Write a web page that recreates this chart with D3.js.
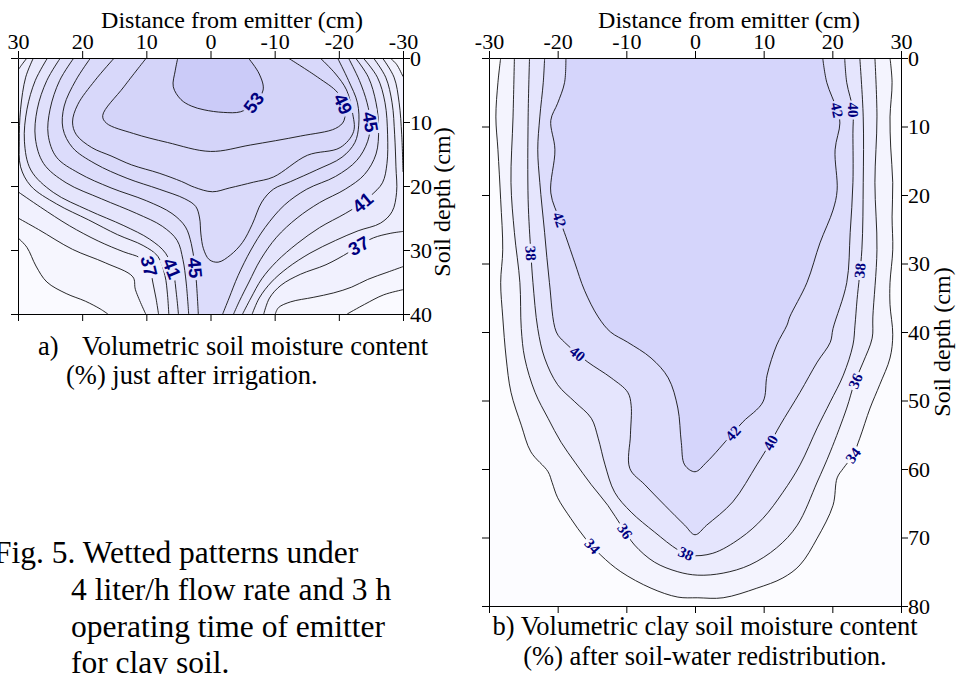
<!DOCTYPE html>
<html>
<head>
<meta charset="utf-8">
<script src="https://cdn.jsdelivr.net/npm/d3@7"></script>
<style>
  body { margin: 0; background: #fff; }
  svg { display: block; }
</style>
</head>
<body>
<script>
// Wetted pattern contour maps. points are [distance cm, depth cm]

// ---- panel a: just after irrigation ----
const xTicksA = [30, 20, 10, 0, -10, -20, -30]
const depthTicksA = [0, 10, 20, 30, 40]

const a53 = [[5.1,0],[5.5,2],[5.8,4.5],[4.6,6.5],[3,7.5],[1,8.1],[-2,8.5],[-4.7,8.4],[-6.5,7.3],[-8.2,5],[-7.6,2.5],[-5.9,0]]
const a49 = [[10,0],[13.5,4.5],[16.8,9],[16.2,10.2],[12,11.8],[6.7,13.2],[0,14.6],[-6.2,13.6],[-14,12.2],[-19.5,11],[-20.8,9.8],[-20.8,7.5],[-19.8,5.4],[-16.7,3],[-12.1,0]]
const a47 = [[15,0],[18,3.5],[20.7,7.3],[21.5,10],[20.9,12],[18.5,14],[15.5,15.3],[12.3,16.7],[8,18],[4.5,19.3],[2.5,20.2],[-0.3,20.9],[-3,20.3],[-6.7,19.4],[-9.8,18.6],[-15.1,15.2],[-20.2,14],[-22.3,11.5],[-22.1,8.4],[-21.2,5],[-19.5,2.5],[-17.1,0]]
const a46 = [[18.7,0],[21,3.5],[22.8,7.5],[23,11],[21.5,14],[18,16.5],[13,18.8],[8,20.5],[4,22],[2.3,23.2],[1.7,25],[1.5,27.5],[1.1,29.8],[0.2,31.5],[-1.2,31.9],[-3.1,30.8],[-5,28.8],[-6.5,26],[-8,22.5],[-9.8,20.5],[-12.5,19.3],[-16.5,17.5],[-20.5,15.5],[-22.5,13.2],[-23.1,10.5],[-22.9,7],[-21.5,3.5],[-19.8,0]]
const a45L = [[21.3,0],[23.5,3.5],[25,8],[25.3,12],[24,15.5],[20.5,18],[15.5,20.3],[10,22.3],[6,24.3],[3.9,26.4],[3,29],[2.5,32],[2.2,35],[1.9,40]]
const a45R = [[-21.5,0],[-23.2,3.5],[-24.4,7],[-24.9,10],[-24.5,13],[-22.8,16],[-19.5,18.5],[-15,20.5],[-11.5,23],[-8.5,26.5],[-6.3,30],[-4.3,34],[-2.9,37.5],[-1.9,40]]
const a43L = [[23.4,0],[25.5,3.5],[27,8],[27.3,12.5],[26,16.5],[22.5,19.5],[17,22],[11.5,24.3],[7.5,26.3],[5.2,28.5],[4.3,31.5],[3.8,35],[3.4,40]]
const a43R = [[-22.6,0],[-24.6,3],[-25.8,7],[-26.2,11],[-25.8,15],[-24,18.2],[-21,20.5],[-17,22.6],[-13.5,25],[-10.3,28],[-7.8,31.5],[-6,35],[-4.5,38],[-3.6,40]]
const a41L = [[25.4,0],[27.3,3.5],[28.6,8],[29,13],[28,17.5],[24.5,21],[19,23.8],[13.5,26.2],[9.5,28.3],[7,30.5],[5.8,33.5],[5.3,37],[5,40]]
const a41R = [[-23.8,0],[-26,3],[-27.2,7],[-27.6,12],[-27.5,16.5],[-26.8,19.5],[-25,21.5],[-23.7,22.6],[-21,24.3],[-17,26.5],[-13.5,29],[-10.3,31.8],[-8,34.5],[-6.3,37.5],[-5,40]]
const a39L = [[27.6,0],[28.8,3],[29.6,8],[29.8,13],[29.6,17],[28,20],[24,22.8],[19,25.3],[14.5,27.6],[10.5,29.3],[8.2,31],[7.1,34],[6.7,37],[6.5,40]]
const a39R = [[-25.4,0],[-27.3,3],[-28.3,7],[-28.7,12],[-28.9,17],[-29,21],[-28.3,24],[-26.5,25.8],[-23,27],[-19.5,28.5],[-15.5,30.5],[-12,32.8],[-9.5,35],[-7.6,37.5],[-6.5,40]]
const a37TL = [[28.6,0],[29.3,0.9],[30,1.9]]
const a37L = [[30,20.9],[26.5,23.3],[22,26.2],[17.5,28.6],[13.5,30.3],[11,31.2],[9.6,32.5],[9,35],[8.5,37.5],[8.1,40]]
const a37TR = [[-26.8,0],[-28.6,3],[-29.4,7],[-29.8,12],[-30,17.8]]
const a37R = [[-8.3,40],[-9.2,37.5],[-11,35.5],[-14,33.8],[-18,32.3],[-21.5,30.4],[-23,29.4],[-25.4,28.1],[-28,27.4],[-30,27.1]]
const a35L = [[30,25],[26.8,26.8],[21.5,29.9],[16.4,32],[12.1,34.2],[11.7,36.2],[10.1,40]]
const a35TR = [[-28,0],[-29,1],[-30,2.9]]
const a35R = [[-10.1,40],[-10.6,39],[-12.5,38.1],[-16,37.4],[-19.2,36.7],[-22,35.8],[-24.5,34.6],[-27.5,33.5],[-30,32.6]]
const a33L = [[30,28.1],[28.6,29.6],[27.2,32.5],[25.5,35],[22.5,36.8],[19.5,38],[17.2,39.2],[16,40]]
const a33R = [[-21.3,40],[-24,38.5],[-27,37],[-30,36.2]]

// [level, distance, depth] where the value is written on the line
const labelsA = [[53,-6.5,6.8],[49,-21,7],[45,-24.9,10],[41,-23.7,22.6],[37,-23,29.2],[37,9.4,32.5],[41,5.8,32.8],[45,2.4,32.8]]

// ---- panel b: after soil-water redistribution ----
const xTicksB = [-30, -20, -10, 0, 10, 20, 30]
const depthTicksB = [0, 10, 20, 30, 40, 50, 60, 70, 80]

const b34 = [[-28.3,0],[-28.7,3.6],[-29,8.6],[-28.7,13.4],[-28.3,20.7],[-28,28],[-28.3,32.8],[-28,37.8],[-27.5,43.8],[-26.8,48.8],[-25.3,53.6],[-23.9,57.5],[-21.4,60.4],[-20.8,62],[-20,64.2],[-18.1,67.2],[-16,70.1],[-13.7,72.6],[-10.8,75],[-6.4,77.4],[-2.5,78.7],[0.4,78.8],[4.1,78.8],[9,77.4],[12.8,75.9],[15.3,74],[17.8,70.1],[20.1,65.3],[20.7,61.3],[21.6,59.9],[23,58],[24,55.5],[25.5,51.1],[26.9,47.7],[28.4,43.8],[28.8,40.4],[28.4,36],[28.4,32.8],[28.8,28],[28.7,23.2],[28.8,18.2],[28.5,13],[28.4,8.6],[28.7,3.6],[28.4,0]]
const b36 = [[-26.3,0],[-26.5,8.6],[-26.8,18.2],[-26.3,25.5],[-25.5,32.8],[-25.3,39.5],[-24.8,43.8],[-23.3,48.8],[-21.4,52.6],[-19.5,56.1],[-17.5,59],[-15.1,62.3],[-12.7,65.3],[-10.6,68.5],[-8.8,71.1],[-5.9,73.6],[-2.5,75],[0.4,75.5],[4.1,75.2],[8,74],[11.9,71.5],[14.9,68.2],[17.8,61.9],[19.7,57.5],[22.1,51.1],[23.2,47.5],[24.5,44.4],[25.8,40.9],[25.9,37.8],[26.5,28],[26.2,18.2],[26.5,8.6],[26.2,0]]
const b38 = [[-24.1,0],[-24.3,8.6],[-24.3,20.7],[-23.9,28.5],[-23.6,32.8],[-22.9,39.5],[-21.9,43.8],[-20,47.7],[-17.5,50.2],[-15.1,52.6],[-14.1,55.5],[-13.1,59.4],[-11.7,63.4],[-9.3,66.3],[-5.9,69.2],[-2.5,71.8],[-0.7,72.6],[2.6,72.3],[6.6,70.1],[9.9,67.2],[12.8,63.4],[15.3,59.4],[17.8,54],[19.7,50.2],[21.6,46.3],[23,41.9],[23.3,39],[23.6,35.3],[24.3,28],[24.5,18.2],[24.5,8.6],[24,0]]
const b40 = [[-21.9,0],[-22.1,3.6],[-22.6,8.6],[-22.9,13.4],[-22.6,18.2],[-21.9,25.5],[-21.2,32.8],[-20.2,40],[-19,41.5],[-17.3,43],[-15.6,44.4],[-12.2,46.7],[-9.8,48.8],[-9.3,50.7],[-9.4,55],[-9.5,59.9],[-7.3,62.3],[-4.4,65.3],[-1.5,68.2],[0,69.6],[1.7,68.2],[5.5,64.8],[9,59.4],[10.9,56.3],[12.4,53.6],[15.3,48.8],[17.8,44.4],[19.7,41.5],[20.1,39.5],[22.1,32.8],[22.6,25.5],[23,18.2],[23,11],[23,7.6],[22.1,3.6],[21.8,0]]
const b42 = [[-18.8,0],[-19,3.6],[-20,6.6],[-21,9.1],[-20.4,13.4],[-21,19.7],[-19.7,23.6],[-18.8,26.1],[-17.5,29.9],[-16.1,33.9],[-14.1,37.8],[-12.3,40],[-9.8,41.5],[-6.4,43.8],[-3.9,46.7],[-2.5,51.1],[-2,56.1],[-1.5,59.4],[0,60.4],[1.7,59],[5.3,55],[7,53.1],[9.9,50.2],[10.5,46.3],[11.9,41.9],[13.4,39],[13.8,37.8],[16.3,32.8],[18.2,27],[20.1,22.2],[20.7,19.3],[20.4,13.4],[21.1,9.5],[20.7,7.6],[19.2,3.6],[18.6,0]]

const labelsB = [[42,-19.7,23.6],[38,-23.9,28.5],[40,-17.3,43.4],[36,-10.5,69.3],[34,-15.1,71.4],[38,-1.3,72.3],[42,5.3,54.6],[40,10.9,56.1],[34,23,58],[36,23,47],[38,23.7,31],[42,20.7,7.6],[40,23,7.6]]

const piecesA = [
    { level: 33, pts: a33L }, { level: 33, pts: a33R },
    { level: 35, pts: a35L }, { level: 35, pts: a35TR }, { level: 35, pts: a35R },
    { level: 37, pts: a37TL }, { level: 37, pts: a37L }, { level: 37, pts: a37TR }, { level: 37, pts: a37R },
    { level: 39, pts: a39L }, { level: 39, pts: a39R },
    { level: 41, pts: a41L }, { level: 41, pts: a41R },
    { level: 43, pts: a43L }, { level: 43, pts: a43R },
    { level: 45, pts: a45L }, { level: 45, pts: a45R },
    { level: 46, pts: a46 }, { level: 47, pts: a47 }, { level: 49, pts: a49 }, { level: 53, pts: a53 }
]
const piecesB = [
    { level: 34, pts: b34 }, { level: 36, pts: b36 }, { level: 38, pts: b38 },
    { level: 40, pts: b40 }, { level: 42, pts: b42 }
]

const serif = "'Liberation Serif', 'Times New Roman', serif"
const width = 959, height = 674
const svg = d3.select("body").append("svg").attr("width", width).attr("height", height)
    .attr("font-family", serif)
const defs = svg.append("defs")

// where along the frame a point sits, clockwise from top-left
function perim(p, b) {
    const W = b.x1 - b.x0, H = b.y1 - b.y0, e = 0.6
    if (Math.abs(p[1] - b.y0) < e) return p[0] - b.x0
    if (Math.abs(p[0] - b.x1) < e) return W + (p[1] - b.y0)
    if (Math.abs(p[1] - b.y1) < e) return W + H + (b.x1 - p[0])
    return 2 * W + H + (b.y1 - p[1])
}

// corners needed to close a line back to its start along the shorter way round the frame
function closingCorners(px, b) {
    const W = b.x1 - b.x0, H = b.y1 - b.y0, P = 2 * (W + H)
    const sA = perim(px[0], b), sB = perim(px[px.length - 1], b)
    const cw = ((sA - sB) % P + P) % P
    const corners = [[0, [b.x0, b.y0]], [W, [b.x1, b.y0]], [W + H, [b.x1, b.y1]], [2 * W + H, [b.x0, b.y1]]]
    if (cw <= P - cw) {
        return corners.map(([s, p]) => [((s - sB) % P + P) % P, p])
            .filter(([t]) => t > 0 && t < cw).sort((a, c) => a[0] - c[0]).map(d => d[1])
    }
    return corners.map(([s, p]) => [((sB - s) % P + P) % P, p])
        .filter(([t]) => t > 0 && t < P - cw).sort((a, c) => a[0] - c[0]).map(d => d[1])
}

function drawPanel(id, x, y, pieces, labels, color, xTicks, yTicks, lab) {
    const b = { x0: d3.min(x.range()), x1: d3.max(x.range()), y0: y.range()[0], y1: y.range()[1] }
    const g = svg.append("g")
    const line = d3.line().x(d => x(d[0])).y(d => y(d[1])).curve(d3.curveCatmullRom.alpha(0.5))

    defs.append("clipPath").attr("id", `clip-${id}`)
        .append("rect").attr("x", b.x0).attr("y", b.y0).attr("width", b.x1 - b.x0).attr("height", b.y1 - b.y0)
    const mask = defs.append("mask").attr("id", `mask-${id}`)
        .attr("maskUnits", "userSpaceOnUse").attr("x", 0).attr("y", 0).attr("width", width).attr("height", height)
    mask.append("rect").attr("width", width).attr("height", height).attr("fill", "white")

    // colour bands, painted from the lowest level upwards
    const levels = [...new Set(pieces.map(p => p.level))].sort((a, c) => a - c)
    const fills = g.append("g").attr("clip-path", `url(#clip-${id})`)
    fills.append("rect").attr("x", b.x0).attr("y", b.y0).attr("width", b.x1 - b.x0).attr("height", b.y1 - b.y0)
        .attr("fill", color(levels[0] - 2))
    const peak = [x(0), y(0.5)]
    const frame = `M${b.x0},${b.y0}H${b.x1}V${b.y1}H${b.x0}Z`
    levels.forEach(lv => {
        let high = false
        const d = pieces.filter(p => p.level === lv).map(p => {
            const px = p.pts.map(q => [x(q[0]), y(q[1])])
            const corners = closingCorners(px, b)
            if (d3.polygonContains(px.concat(corners), peak)) high = true
            return line(p.pts) + corners.map(c => `L${c[0]},${c[1]}`).join("") + "Z"
        }).join("")
        fills.append("path").attr("d", (high ? "" : frame) + d)
            .attr("fill-rule", "evenodd").attr("fill", color(lv))
    })

    g.append("g").attr("clip-path", `url(#clip-${id})`)
        .append("g").attr("mask", `url(#mask-${id})`)
        .selectAll("path").data(pieces).join("path")
        .attr("d", p => line(p.pts))
        .attr("fill", "none").attr("stroke", "#111").attr("stroke-width", 0.9)

    // labels sit on the nearest point of their line, turned along it
    labels.forEach(([lv, lx, ld]) => {
        const pt = [x(lx), y(ld)]
        let best = null
        pieces.filter(p => p.level === lv).forEach(p => {
            const px = p.pts.map(q => [x(q[0]), y(q[1])])
            for (let i = 0; i < px.length - 1; i++) {
                const [ax, ay] = px[i], [bx, by] = px[i + 1]
                const dx = bx - ax, dy = by - ay
                let t = ((pt[0] - ax) * dx + (pt[1] - ay) * dy) / (dx * dx + dy * dy)
                t = Math.max(0, Math.min(1, t))
                const qx = ax + t * dx, qy = ay + t * dy
                const dist = Math.hypot(pt[0] - qx, pt[1] - qy)
                if (!best || dist < best.dist) best = { dist, qx, qy, dx, dy }
            }
        })
        let ang = Math.atan2(best.dy, best.dx) * 180 / Math.PI
        while (ang > 95) ang -= 180
        while (ang <= -85) ang += 180
        const tf = `translate(${best.qx},${best.qy}) rotate(${ang})`
        const t = g.append("text").attr("transform", tf)
            .attr("text-anchor", "middle").attr("dy", "0.35em")
            .attr("font-family", lab.font).attr("font-size", lab.size).attr("font-weight", "bold")
            .attr("fill", "#00007f").text(lv)
        const w = t.node().getComputedTextLength()
        mask.append("rect").attr("transform", tf)
            .attr("x", -w / 2 - 2).attr("y", -lab.size * 0.45).attr("width", w + 4).attr("height", lab.size * 0.9)
            .attr("fill", "black")
    })

    // axes all round the frame
    const fmt = d => String(d)
    const styleAxis = a => a.attr("font-family", serif).attr("font-size", 22)
        .call(s => s.selectAll("text").attr("fill", "#000"))
        .call(s => s.selectAll("line,path").attr("stroke", "#000"))
    g.append("g").attr("transform", `translate(0,${b.y0})`)
        .call(d3.axisTop(x).tickValues(xTicks).tickSize(7).tickPadding(2).tickSizeOuter(0).tickFormat(fmt)).call(styleAxis)
    g.append("g").attr("transform", `translate(0,${b.y1})`)
        .call(d3.axisBottom(x).tickValues(xTicks).tickSize(7).tickSizeOuter(0).tickFormat("")).call(styleAxis)
    g.append("g").attr("transform", `translate(${b.x0},0)`)
        .call(d3.axisLeft(y).tickValues(yTicks).tickSize(7).tickSizeOuter(0).tickFormat("")).call(styleAxis)
    g.append("g").attr("transform", `translate(${b.x1},0)`)
        .call(d3.axisRight(y).tickValues(yTicks).tickSize(7).tickPadding(0).tickSizeOuter(0).tickFormat(fmt)).call(styleAxis)
    return g
}

const xA = d3.scaleLinear().domain([30, -30]).range([18, 403])
const yA = d3.scaleLinear().domain([0, 40]).range([58, 314])
const colorA = d3.scaleLinear().domain([31, 53]).range(["#fafaff", "#cbcbf8"])
drawPanel("a", xA, yA, piecesA, labelsA, colorA, xTicksA, depthTicksA, { font: "'Liberation Sans', Arial, sans-serif", size: 18.5 })

const xB = d3.scaleLinear().domain([-30, 30]).range([489, 901])
const yB = d3.scaleLinear().domain([0, 80]).range([58, 606])
const colorB = d3.scaleLinear().domain([32, 42]).range(["#fcfcff", "#d5d5fb"])
drawPanel("b", xB, yB, piecesB, labelsB, colorB, xTicksB, depthTicksB, { font: serif, size: 15 })

// titles and captions
svg.append("text").attr("x", 232).attr("y", 28).attr("text-anchor", "middle").attr("font-size", 24).text("Distance from emitter (cm)")
svg.append("text").attr("x", 729).attr("y", 28).attr("text-anchor", "middle").attr("font-size", 24).text("Distance from emitter (cm)")
svg.append("text").attr("transform", "translate(450,202) rotate(-90)").attr("text-anchor", "middle").attr("font-size", 24).text("Soil depth (cm)")
svg.append("text").attr("transform", "translate(950,342) rotate(-90)").attr("text-anchor", "middle").attr("font-size", 24).text("Soil depth (cm)")

svg.append("text").attr("x", 38).attr("y", 355).attr("font-size", 26.5).text("a)")
svg.append("text").attr("x", 82).attr("y", 355).attr("font-size", 26.5).text("Volumetric soil moisture content")
svg.append("text").attr("x", 66).attr("y", 384).attr("font-size", 26.5).text("(%) just after irrigation.")

svg.append("text").attr("x", 705).attr("y", 635).attr("text-anchor", "middle").attr("font-size", 26.5).text("b) Volumetric clay soil moisture content")
svg.append("text").attr("x", 705).attr("y", 665).attr("text-anchor", "middle").attr("font-size", 26.5).text("(%) after soil-water redistribution.")

const figLines = ["4 liter/h flow rate and 3 h", "operating time of emitter", "for clay soil."]
svg.append("text").attr("x", -6).attr("y", 563).attr("font-size", 31.5).text("Fig. 5. Wetted patterns under")
figLines.forEach((s, i) => {
    svg.append("text").attr("x", 71).attr("y", 600 + i * 36.5).attr("font-size", 31.5).text(s)
})
</script>
</body>
</html>
